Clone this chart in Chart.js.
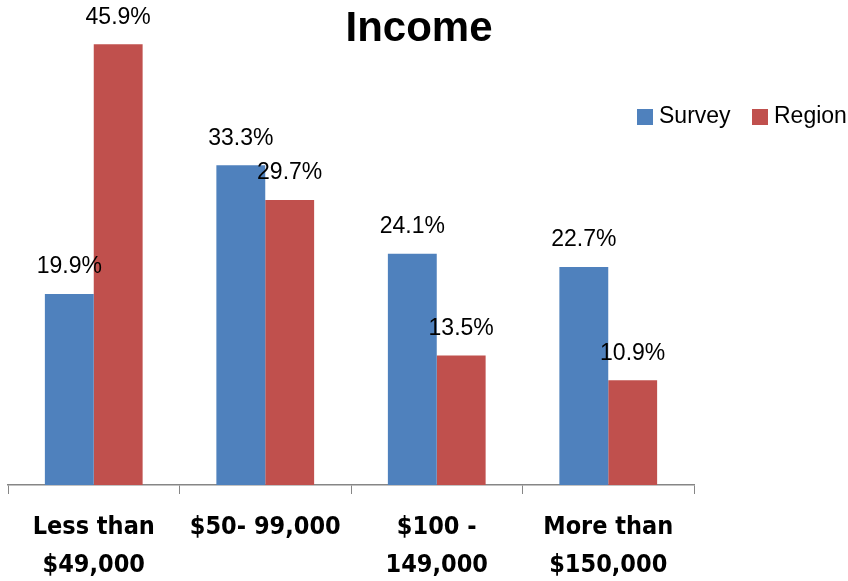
<!DOCTYPE html>
<html>
<head>
<meta charset="utf-8">
<script src="https://cdn.jsdelivr.net/npm/chart.js@4"></script>
<style>
  body { margin: 0; background: #fff; }
  canvas { display: block; }
</style>
</head>
<body>
<canvas id="myChart" width="848" height="581"></canvas>
<script>
var categories = [['Less than', '$49,000'], '$50- 99,000', ['$100 -', '149,000'], ['More than', '$150,000']];
var surveyValues = [19.9, 33.3, 24.1, 22.7];
var regionValues = [45.9, 29.7, 13.5, 10.9];
var seriesNames = ['Survey', 'Region'];
var seriesColors = ['#4F81BD', '#C0504D'];
var chartTitle = 'Income';

var narrow = "'Liberation Sans Narrow', 'DejaVu Sans Condensed', 'Liberation Sans', sans-serif";
var plain = "'Liberation Sans', Arial, sans-serif";

// title, legend and value labels drawn straight onto the canvas
var decor = {
  id: 'decor',
  afterDatasetsDraw: function(chart) {
    var ctx = chart.ctx;
    ctx.save();
    ctx.fillStyle = '#000';
    ctx.textAlign = 'center';
    ctx.textBaseline = 'middle';
    ctx.font = '23px ' + plain;
    chart.data.datasets.forEach(function(ds, i) {
      chart.getDatasetMeta(i).data.forEach(function(bar, j) {
        ctx.fillText(ds.data[j].toFixed(1) + '%', bar.x, bar.y - 27);
      });
    });

    ctx.font = 'bold 42px ' + plain;
    ctx.fillText(chartTitle, 419, 29);

    ctx.font = '23px ' + plain;
    ctx.textAlign = 'left';
    var lx = [637, 752];
    seriesNames.forEach(function(name, i) {
      ctx.fillStyle = seriesColors[i];
      ctx.fillRect(lx[i], 109, 16, 16);
      ctx.fillStyle = '#000';
      ctx.fillText(name, lx[i] + 22, 117);
    });
    ctx.restore();
  }
};

new Chart(document.getElementById('myChart'), {
  type: 'bar',
  data: {
    labels: categories,
    datasets: [
      { label: seriesNames[0], data: surveyValues, backgroundColor: seriesColors[0] },
      { label: seriesNames[1], data: regionValues, backgroundColor: seriesColors[1] }
    ]
  },
  options: {
    responsive: false,
    animation: false,
    layout: { padding: { left: 8, right: 154, top: 5, bottom: 0 } },
    datasets: { bar: { categoryPercentage: 0.57, barPercentage: 1 } },
    plugins: {
      legend: { display: false },
      title: { display: false },
      tooltip: { enabled: false }
    },
    scales: {
      y: { display: false, min: 0, max: 50 },
      x: {
        afterFit: function(scale) { scale.height = 96; },
        grid: { offset: true, drawOnChartArea: false, color: '#868686', tickLength: 9 },
        border: { color: '#868686', width: 1.5 },
        ticks: {
          color: '#000',
          padding: 15,
          maxRotation: 0,
          autoSkip: false,
          font: { family: narrow, size: 25, weight: 'bold', lineHeight: 1.5 }
        }
      }
    }
  },
  plugins: [decor]
});
</script>
</body>
</html>
